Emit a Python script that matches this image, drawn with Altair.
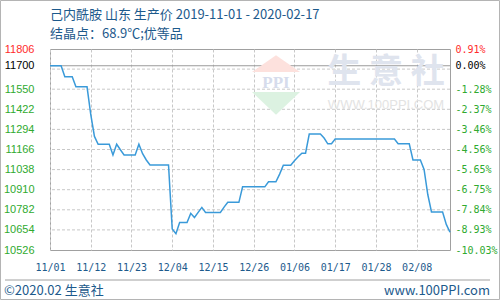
import altair as alt
import pandas as pd

# ---------------- data ----------------
title_text = "己内酰胺 山东 生产价 2019-11-01 - 2020-02-17"
subtitle_text = "结晶点：68.9℃;优等品"
footer_left = "©2020.02 生意社"
footer_right = "www.100PPI.com"

dates = ["2019-11-01", "2019-11-04", "2019-11-05", "2019-11-07", "2019-11-08", "2019-11-11",
         "2019-11-12", "2019-11-13", "2019-11-14", "2019-11-17", "2019-11-18", "2019-11-19",
         "2019-11-20", "2019-11-21", "2019-11-24", "2019-11-25", "2019-11-26", "2019-11-27",
         "2019-11-28", "2019-12-03", "2019-12-04", "2019-12-05", "2019-12-06", "2019-12-08",
         "2019-12-09", "2019-12-10", "2019-12-11", "2019-12-12", "2019-12-13", "2019-12-17",
         "2019-12-18", "2019-12-19", "2019-12-22", "2019-12-23", "2019-12-29", "2019-12-30",
         "2020-01-01", "2020-01-02", "2020-01-03", "2020-01-05", "2020-01-06", "2020-01-07",
         "2020-01-08", "2020-01-09", "2020-01-10", "2020-01-13", "2020-01-14", "2020-01-15",
         "2020-01-16", "2020-01-17", "2020-02-02", "2020-02-03", "2020-02-06", "2020-02-07",
         "2020-02-09", "2020-02-10", "2020-02-11", "2020-02-12", "2020-02-15", "2020-02-16",
         "2020-02-17"]
prices = [11700, 11700, 11630, 11630, 11566, 11566,
          11390, 11250, 11200, 11200, 11132, 11200,
          11165, 11132, 11132, 11200, 11140, 11100,
          11068, 11068, 10660, 10631, 10702, 10702,
          10760, 10734, 10766, 10798, 10766, 10766,
          10800, 10830, 10830, 10929, 10929, 10961,
          10961, 11010, 11066, 11066, 11095, 11120,
          11143, 11143, 11265, 11265, 11240, 11203,
          11203, 11233, 11233, 11203, 11203, 11100,
          11100, 11040, 10880, 10769, 10769, 10690,
          10640]

base_price = 11700
y_domain = [10526.7, 11806.7]
y_label_values = [10526.7, 10654.7, 10782.7, 10910.7, 11038.7, 11166.7, 11294.7,
                  11422.7, 11550.7, 11700, 11806.7]
y_grid_values = [10654.7, 10782.7, 10910.7, 11038.7, 11166.7, 11294.7, 11422.7,
                 11550.7, 11678.7]
x_tick_dates = ["2019-11-01", "2019-11-12", "2019-11-23", "2019-12-04", "2019-12-15",
                "2019-12-26", "2020-01-06", "2020-01-17", "2020-01-28", "2020-02-08"]
x_domain = ["2019-11-01", "2020-02-17"]


def dt(s):
    return alt.DateTime(year=int(s[:4]), month=int(s[5:7]), date=int(s[8:10]))


df = pd.DataFrame({"date": [d + "T00:00:00" for d in dates], "price": prices})
grid_df = pd.DataFrame({"g": y_grid_values})
ref_df = pd.DataFrame({"r": [base_price]})
one = pd.DataFrame({"k": [0]})

BLUE_TEXT = "#1d5a8c"
label_color = alt.ExprRef(expr=
    "datum.value > 11750 ? '#ff2b2b' : (datum.value == 11700 ? '#000000' : '#2faa2f')")

y_scale = alt.Scale(domain=y_domain, nice=False, zero=False)
x_scale = alt.Scale(domain=[dt(x_domain[0]), dt(x_domain[1])])

x_enc = alt.X("date:T", scale=x_scale, title=None,
              axis=alt.Axis(values=[dt(s) for s in x_tick_dates], format="%m/%d",
                            labelFont="DejaVu Sans Mono", labelFontSize=10,
                            labelColor=BLUE_TEXT, ticks=False, domain=False,
                            labelPadding=12, labelFlush=False, labelOverlap=False,
                            grid=True, gridColor="#c8c8c8", gridDash=[3, 2]))

left_axis = alt.Axis(values=y_label_values, orient="left", ticks=False, domain=False,
                     grid=False, labelPadding=16, labelFont="Liberation Sans",
                     labelFontSize=11, title=None, labelOverlap=False,
                     labelExpr="'' + floor(datum.value)", labelColor=label_color)
right_axis = alt.Axis(values=y_label_values, orient="right", ticks=False, domain=False,
                      grid=False, labelPadding=5, labelFont="DejaVu Sans Mono",
                      labelFontSize=10, title=None, labelOverlap=False,
                      labelExpr="replace(format(datum.value/11700-1, '.2%'), '\u2212', '-')",
                      labelColor=label_color)

hgrid = alt.Chart(grid_df).mark_rule(color="#c8c8c8", strokeDash=[3, 2], strokeWidth=1).encode(
    y=alt.Y("g:Q", scale=y_scale, axis=right_axis))
ref = alt.Chart(ref_df).mark_rule(color="#9a9a9a", strokeWidth=1).encode(
    y=alt.Y("r:Q", scale=y_scale, axis=None))

# watermark
wm_red = alt.Chart(one).mark_point(shape="M-1,0L1,0L0,-0.7Z", filled=True, fill="#fde1dd",
                                   strokeWidth=0, opacity=1, size=2304).encode(
    x=alt.value(226), y=alt.value(23))
wm_green = alt.Chart(one).mark_point(shape="M-1,0L1,0L0,0.95Z", filled=True, fill="#dcf2e1",
                                     strokeWidth=0, opacity=1, size=2304).encode(
    x=alt.value(226), y=alt.value(43))
wm_ppi = alt.Chart(one).mark_text(text="PPI", font="Liberation Serif", fontSize=17,
                                  fontWeight="bold", color="#d6dcec").encode(
    x=alt.value(226), y=alt.value(34))
wm_big = alt.Chart(one).mark_text(text="生 意 社", font="Noto Sans CJK SC", fontSize=34,
                                  fontWeight="bold", color="#dfe4ee").encode(
    x=alt.value(336), y=alt.value(24))
wm_url = alt.Chart(one).mark_text(text="WWW.100PPI.COM", font="Liberation Sans", fontSize=13,
                                  color="#e3e3e3").encode(
    x=alt.value(336), y=alt.value(56))

line = alt.Chart(df).mark_line(color="#3a9ad9", strokeWidth=1.5).encode(
    x=x_enc, y=alt.Y("price:Q", scale=y_scale, axis=left_axis))

title = alt.Chart(one).mark_text(text=title_text, align="left", baseline="middle",
                                 font="Noto Sans CJK SC", fontSize=13, color=BLUE_TEXT).encode(
    x=alt.value(0), y=alt.value(-34))
subtitle = alt.Chart(one).mark_text(text=subtitle_text, align="left", baseline="middle",
                                    font="Noto Sans CJK SC", fontSize=13, color=BLUE_TEXT).encode(
    x=alt.value(0), y=alt.value(-15))
sep = alt.Chart(one).mark_rule(color="#a0a0a0", strokeWidth=1).encode(
    x=alt.value(-45), x2=alt.value(440), y=alt.value(231))
foot_l = alt.Chart(one).mark_text(text=footer_left, align="left", baseline="middle",
                                  font="Noto Sans CJK SC", fontSize=13, color=BLUE_TEXT).encode(
    x=alt.value(-46), y=alt.value(242))
foot_r = alt.Chart(one).mark_text(text=footer_right, align="right", baseline="middle",
                                  font="Noto Sans CJK SC", fontSize=13, color=BLUE_TEXT).encode(
    x=alt.value(440), y=alt.value(242))
frame = alt.Chart(one).mark_rect(fillOpacity=0, stroke="#b4b4b4", strokeWidth=1).encode(
    x=alt.value(-49.5), x2=alt.value(449.5), y=alt.value(-48.5), y2=alt.value(250.5))

chart = alt.layer(
    hgrid, ref, wm_red, wm_green, wm_ppi, wm_big, wm_url, line,
    title, subtitle, sep, foot_l, foot_r, frame
).resolve_axis(y="independent").properties(
    width=400, height=201, autosize="none",
    padding={"left": 50, "top": 49, "right": 50, "bottom": 50},
    background="white"
).configure_view(stroke="#a0a0a0", strokeWidth=1)

chart.save("out.html", embed_options={"renderer": "svg", "actions": False})
